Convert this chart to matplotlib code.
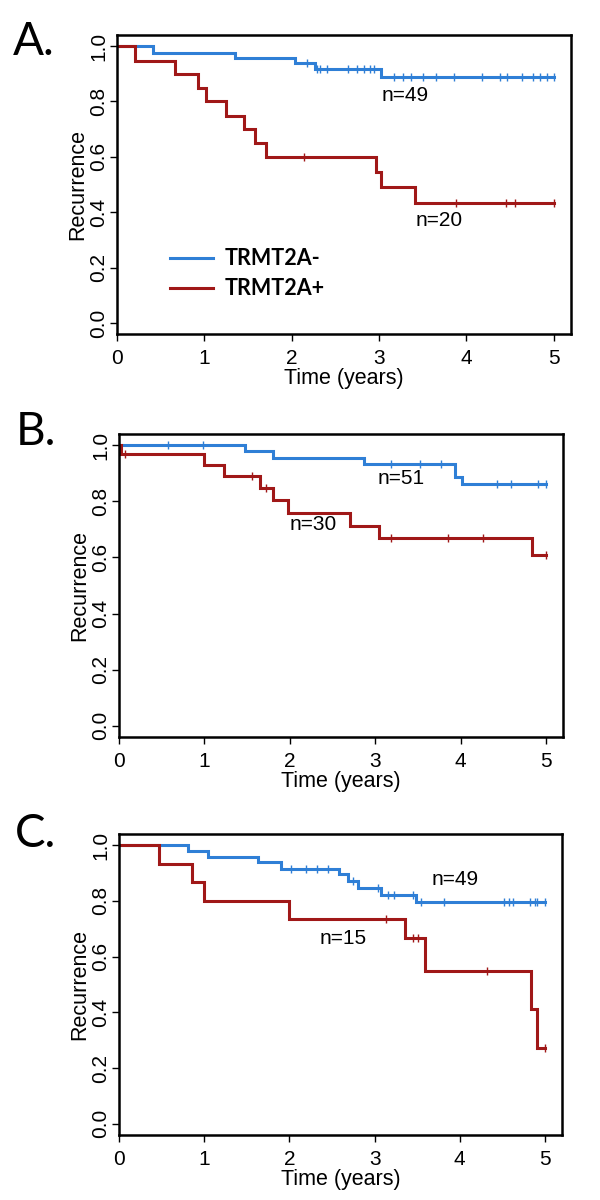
import numpy as np
import matplotlib
matplotlib.use("Agg")
import matplotlib.pyplot as plt

# ---------------- data ----------------
x_ticks = [0, 1, 2, 3, 4, 5]
y_ticks = [0.0, 0.2, 0.4, 0.6, 0.8, 1.0]
y_ticklabels = ["0.0", "0.2", "0.4", "0.6", "0.8", "1.0"]
series_names = ["TRMT2A-", "TRMT2A+"]
panel_labels = ["A.", "B.", "C."]

# Panel A
A_neg_t = [0, 0.41, 1.35, 2.04, 2.27, 3.02]
A_neg_s = [1.0, 0.976, 0.958, 0.938, 0.916, 0.889]
A_neg_c = [2.18, 2.29, 2.33, 2.40, 2.65, 2.75, 2.83, 2.90, 2.94, 3.17, 3.28, 3.37,
           3.51, 3.65, 3.86, 4.18, 4.39, 4.47, 4.64, 4.76, 4.85, 4.93, 5.0]
A_pos_t = [0, 0.21, 0.665, 0.93, 1.02, 1.25, 1.45, 1.58, 1.71, 2.97, 3.02, 3.41]
A_pos_s = [1.0, 0.946, 0.898, 0.847, 0.80, 0.747, 0.70, 0.649, 0.60, 0.546, 0.49, 0.434]
A_pos_c = [2.14, 3.88, 4.45, 4.56, 5.0]
A_n = ["n=49", "n=20"]

# Panel B
B_neg_t = [0, 1.48, 1.80, 2.87, 3.94, 4.02]
B_neg_s = [1.0, 0.979, 0.955, 0.933, 0.887, 0.863]
B_neg_c = [0.57, 0.98, 3.19, 3.53, 3.77, 4.43, 4.59, 4.91, 5.0]
B_pos_t = [0, 0.02, 0.99, 1.23, 1.65, 1.80, 1.98, 2.71, 3.04, 4.84]
B_pos_s = [1.0, 0.967, 0.929, 0.889, 0.848, 0.804, 0.759, 0.713, 0.669, 0.608]
B_pos_c = [0.07, 1.56, 1.72, 3.19, 3.85, 4.26, 5.0]
B_n = ["n=51", "n=30"]

# Panel C
C_neg_t = [0, 0.81, 1.04, 1.63, 1.90, 2.58, 2.69, 2.81, 3.08, 3.49]
C_neg_s = [1.0, 0.978, 0.958, 0.938, 0.916, 0.896, 0.872, 0.847, 0.821, 0.797]
C_neg_c = [2.02, 2.20, 2.32, 2.45, 2.75, 3.04, 3.16, 3.23, 3.45, 3.54, 3.82,
           4.52, 4.58, 4.62, 4.82, 4.88, 4.91, 5.0]
C_pos_t = [0, 0.47, 0.86, 1.0, 1.99, 3.36, 3.59, 4.84, 4.91]
C_pos_s = [1.0, 0.934, 0.866, 0.80, 0.734, 0.666, 0.549, 0.412, 0.272]
C_pos_c = [3.13, 3.45, 3.51, 4.32, 5.0]
C_n = ["n=49", "n=15"]

# ---------------- style ----------------
BLUE = "#2f7fd6"
RED = "#a01818"
TICK_FONT = "Liberation Sans"
LEG_FONT = "Lato"

fig = plt.figure(figsize=(6, 12), dpi=100)

# axes rectangles (fig fractions)
rects = [
    [117 / 600, 1 - 334 / 1200, 454 / 600, 299 / 1200],
    [119 / 600, 1 - 737 / 1200, 444 / 600, 303 / 1200],
    [119 / 600, 1 - 1135 / 1200, 443 / 600, 301 / 1200],
]
label_pos = [(13, 55), (16, 445), (15, 847)]

panels = [
    (A_neg_t, A_neg_s, A_neg_c, A_pos_t, A_pos_s, A_pos_c, A_n, [(3.30, 0.823), (3.685, 0.369)]),
    (B_neg_t, B_neg_s, B_neg_c, B_pos_t, B_pos_s, B_pos_c, B_n, [(3.31, 0.881), (2.28, 0.717)]),
    (C_neg_t, C_neg_s, C_neg_c, C_pos_t, C_pos_s, C_pos_c, C_n, [(3.95, 0.878), (2.63, 0.666)]),
]


def km(ax, t, s, c, color, label):
    tt = list(t) + [5.0]
    ss = list(s) + [s[-1]]
    ax.step(tt, ss, where="post", color=color, lw=2.2, label=label, solid_joinstyle="miter")
    c = np.asarray(c)
    idx = np.searchsorted(np.asarray(t), c, side="right") - 1
    cv = np.asarray(s)[idx]
    ax.plot(c, cv, ls="none", marker="|", ms=5.5, mew=1.0, color=color)


for i, (rect, p) in enumerate(zip(rects, panels)):
    nt, ns, nc, pt, ps, pc, nlab, npos = p
    ax = fig.add_axes(rect)
    km(ax, nt, ns, nc, BLUE, series_names[0])
    km(ax, pt, ps, pc, RED, series_names[1])
    ax.set_xlim(0, 5.2)
    ax.set_ylim(-0.04, 1.04)
    ax.set_xticks(x_ticks)
    ax.set_xticklabels([str(v) for v in x_ticks], fontname=TICK_FONT, fontsize=15)
    ax.set_yticks(y_ticks)
    ax.set_yticklabels(y_ticklabels, fontname=TICK_FONT, fontsize=15,
                       rotation=90, va="center")
    ax.tick_params(axis="x", length=5, width=1.0, pad=6, direction="out")
    ax.tick_params(axis="y", length=5, width=1.0, pad=1.5, direction="out")
    for sp in ax.spines.values():
        sp.set_linewidth(1.8)
    ax.set_ylabel("Recurrence", fontname=TICK_FONT, fontsize=15.5)
    ax.yaxis.set_label_coords(-0.064, 0.5)
    ax.set_xlabel("Time (years)", fontname=TICK_FONT, fontsize=15.5, labelpad=0)
    for lab, (x, y) in zip(nlab, npos):
        ax.text(x, y, lab, ha="center", va="center", fontname=TICK_FONT, fontsize=15)
    if i == 0:
        leg = ax.legend(loc="upper left", bbox_to_anchor=(0.117, 0.287), frameon=False,
                        handlelength=2.0, handletextpad=0.55, labelspacing=0.42,
                        borderpad=0, borderaxespad=0,
                        prop={"family": LEG_FONT, "weight": "bold", "size": 15.5})
    lx, ly = label_pos[i]
    fig.text(lx / 600, 1 - ly / 1200, panel_labels[i], fontname=LEG_FONT, fontsize=33,
             ha="left", va="baseline")

fig.savefig("out.png", dpi=100, facecolor="white")
